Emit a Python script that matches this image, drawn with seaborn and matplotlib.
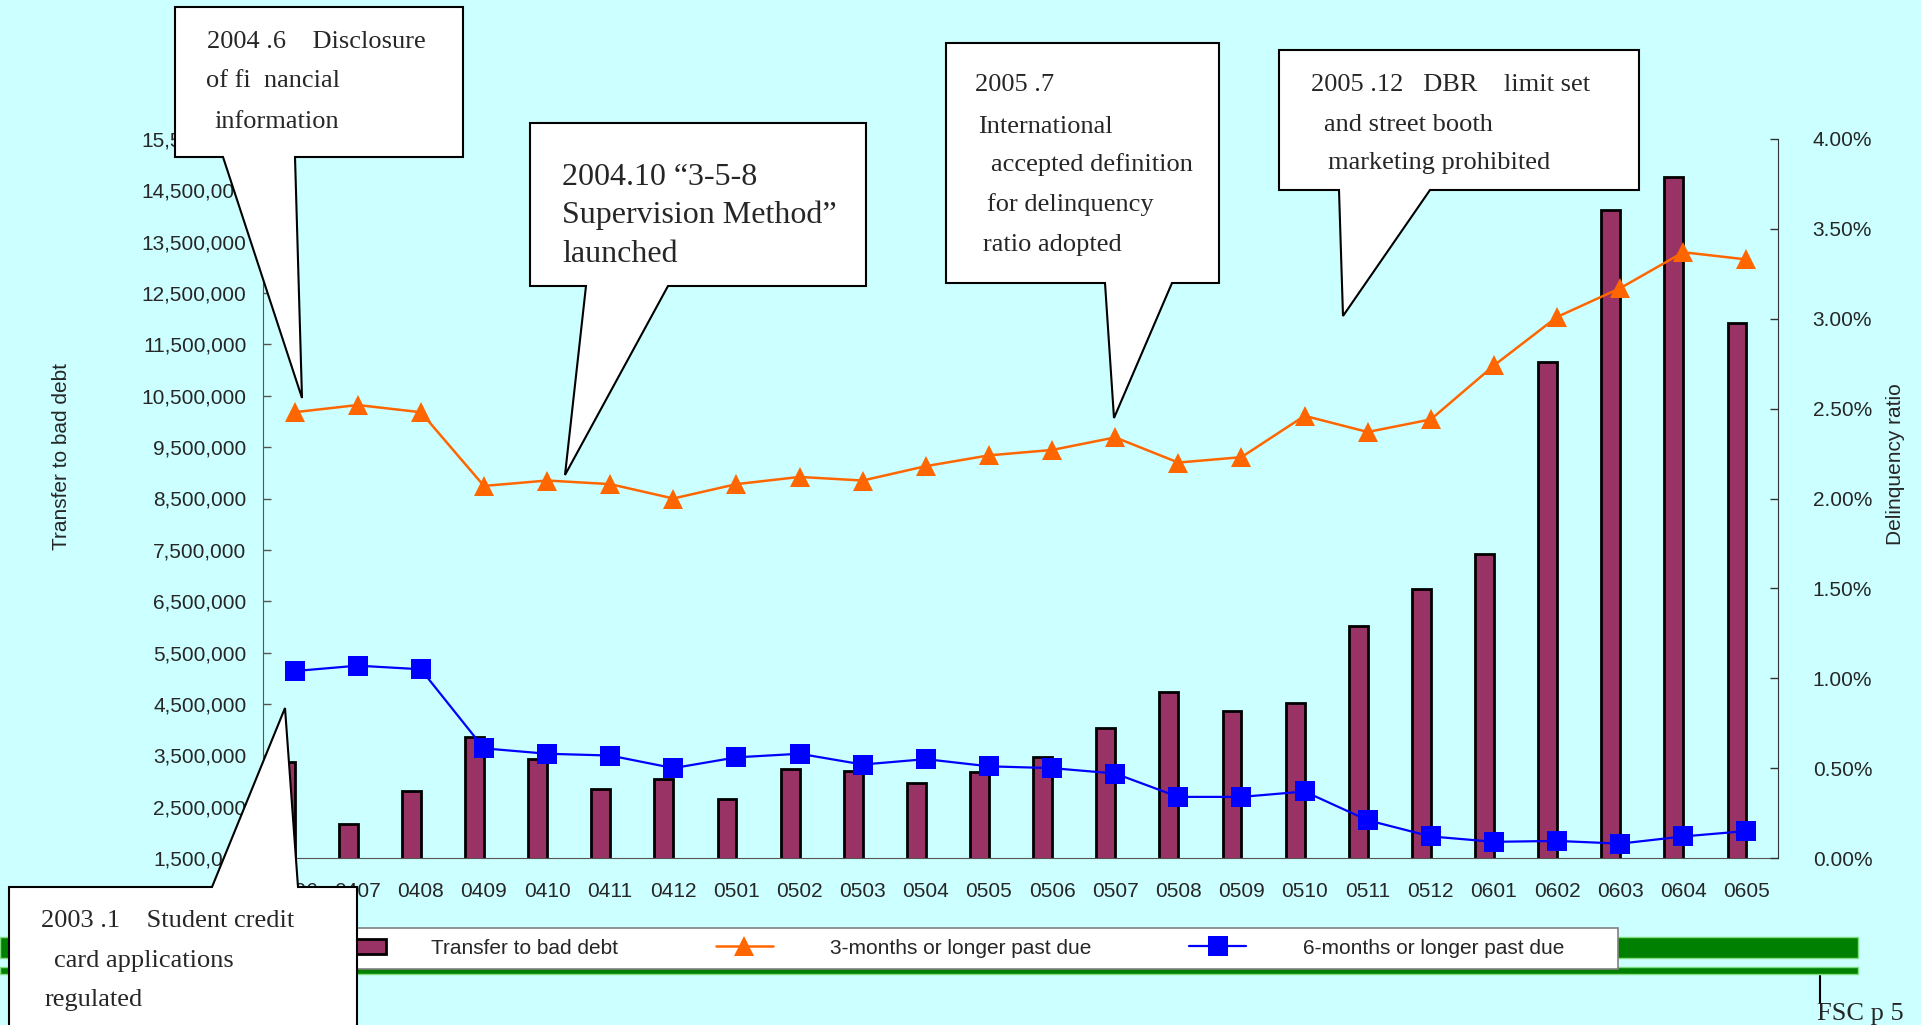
import matplotlib
matplotlib.use('Agg')
import matplotlib.pyplot as plt
import matplotlib.ticker as mticker
from matplotlib.patches import Polygon, Rectangle, Patch
from matplotlib.lines import Line2D
from matplotlib.legend_handler import HandlerPatch
import numpy as np
import pandas as pd
import seaborn as sns

# Daten
months = ['0406', '0407', '0408', '0409', '0410', '0411', '0412',
          '0501', '0502', '0503', '0504', '0505', '0506', '0507', '0508', '0509', '0510', '0511', '0512',
          '0601', '0602', '0603', '0604', '0605']
bad_debt = [3360000, 2160000, 2800000, 3850000, 3420000, 2840000, 3030000,
            2640000, 3230000, 3200000, 2970000, 3170000, 3460000, 4040000, 4730000, 4370000, 4520000,
            6020000, 6740000, 7420000, 11160000, 14110000, 14760000, 11920000]
past_due_3m = [0.0248, 0.0252, 0.0248, 0.0207, 0.0210, 0.0208, 0.0200,
               0.0208, 0.0212, 0.0210, 0.0218, 0.0224, 0.0227, 0.0234, 0.0220, 0.0223, 0.0246,
               0.0237, 0.0244, 0.0274, 0.0301, 0.0317, 0.0337, 0.0333]
past_due_6m = [0.0104, 0.0107, 0.0105, 0.0061, 0.0058, 0.0057, 0.0050,
               0.0056, 0.0058, 0.0052, 0.0055, 0.0051, 0.0050, 0.0047, 0.0034, 0.0034, 0.0037,
               0.0021, 0.0012, 0.0009, 0.00095, 0.0008, 0.0012, 0.0015]
series_names = ['Transfer to bad debt', '3-months or longer past due', '6-months or longer past due']
left_ticks = np.arange(1500000, 15500001, 1000000)
right_ticks = np.arange(0, 0.0401, 0.005)

BG = '#CCFFFF'
BAR = '#993366'
ORANGE = '#FF6600'
BLUE = '#0000FF'
W, H = 1921, 1025


def fx(x):
    return x / W


def fy(y):
    return 1 - y / H


def bar_handle(legend, orig_handle, xdescent, ydescent, width, height, fontsize):
    # Balken-Symbol in der Legende etwas nach rechts versetzt (wie im Original)
    return Rectangle((-xdescent + 8.6, -ydescent), width, height)


sns.set_style('white')
plt.rcParams['font.family'] = ['Liberation Sans', 'DejaVu Sans']

fig = plt.figure(figsize=(W / 100, H / 100), dpi=100, facecolor=BG)
ax = fig.add_axes([fx(263), fy(858), fx(1778) - fx(263), fy(139) - fy(858)])
ax.set_facecolor('none')

# Balken: zweite (leere) Serie, damit die Balken wie in Excel links von der Mitte stehen
df_bar = pd.DataFrame({'month': months, series_names[0]: bad_debt, 'leer': np.nan})
df_bar = df_bar.melt(id_vars='month', var_name='series', value_name='value')
sns.barplot(data=df_bar, x='month', y='value', hue='series', hue_order=[series_names[0], 'leer'],
            palette=[BAR, BAR], width=0.6, gap=0, dodge=True, saturation=1, errorbar=None,
            edgecolor='black', linewidth=2, legend=False, ax=ax)

ax2 = ax.twinx()
df_line = pd.DataFrame({'month': months, 'p3': past_due_3m, 'p6': past_due_6m})
sns.lineplot(data=df_line, x='month', y='p3', ax=ax2, color=ORANGE, marker='^', markersize=15,
             linewidth=1.8, markeredgecolor=ORANGE, markeredgewidth=0, sort=False)
sns.lineplot(data=df_line, x='month', y='p6', ax=ax2, color=BLUE, marker='s', markersize=14,
             linewidth=1.6, markeredgecolor=BLUE, markeredgewidth=0, sort=False)

ax.set_xlim(-0.5, len(months) - 0.5)
ax.set_ylim(left_ticks[0], left_ticks[-1])
ax2.set_ylim(0, 0.04)

ax.set_yticks(left_ticks)
ax.yaxis.set_major_formatter(mticker.StrMethodFormatter('{x:,.0f}'))
ax2.set_yticks(right_ticks)
ax2.yaxis.set_major_formatter(mticker.PercentFormatter(1.0, decimals=2))

ax.set_xticks(range(len(months)), labels=months)
ax.set_xticks(np.arange(-0.5, len(months), 1), minor=True)

ax.tick_params(axis='x', which='major', length=0, pad=17, labelsize=15)
ax.tick_params(axis='x', which='minor', direction='in', length=4.5, width=1, color='#555555')
ax.tick_params(axis='y', direction='in', length=6, width=1, pad=12, labelsize=15, color='#555555')
ax2.tick_params(axis='y', direction='in', length=6, width=1, pad=25, labelsize=15, color='#333333')

for s in ['top', 'right']:
    ax.spines[s].set_visible(False)
for s in ['top', 'left', 'bottom']:
    ax2.spines[s].set_visible(False)
ax.spines['left'].set_color('#555555')
ax.spines['bottom'].set_color('#555555')
ax2.spines['right'].set_color('#333333')

ax.set_xlabel('')
ax.set_ylabel('Transfer to bad debt', fontsize=15)
ax.yaxis.set_label_coords(-0.1267, 0.558)
ax2.set_xlabel('')
ax2.set_ylabel('Delinquency ratio', fontsize=15)
ax2.yaxis.set_label_coords(1.0713, 0.548)

# gruene Balken unten
for y0, y1 in [(937, 958), (967, 974)]:
    fig.add_artist(Rectangle((0, fy(y1)), fx(1858), fy(y0) - fy(y1), transform=fig.transFigure,
                             facecolor='#008000', edgecolor='#80dd80', linewidth=1, zorder=1))

# Legende
fig.add_artist(Rectangle((fx(300), fy(969)), fx(1618) - fx(300), fy(928) - fy(969), transform=fig.transFigure,
                         facecolor='white', edgecolor='#808080', linewidth=1.2, zorder=2))
handles = [Patch(facecolor=BAR, edgecolor='black', linewidth=2),
           Line2D([], [], color=ORANGE, marker='^', markersize=15, linewidth=1.8, markeredgewidth=0),
           Line2D([], [], color=BLUE, marker='s', markersize=14, linewidth=1.6, markeredgewidth=0)]
fig.legend(handles, series_names, loc='center left', bbox_to_anchor=(fx(317), fy(948)), ncol=3,
           frameon=False, fontsize=15, handlelength=2.74, handletextpad=2.74, columnspacing=4.69,
           borderpad=0, borderaxespad=0, handler_map={Patch: HandlerPatch(patch_func=bar_handle)})

# Sprechblasen
SERIF = ['Liberation Serif', 'DejaVu Serif']
callouts = [
    dict(box=(175, 7, 463, 157), base=(223, 295), tip=(302, 398), size=19,
         lines=[(207, 48, '2004 .6    Disclosure'), (206, 87, 'of fi  nancial'), (214, 128, 'information')]),
    dict(box=(530, 123, 866, 286), base=(586, 668), tip=(565, 475), size=23,
         lines=[(562, 185, '2004.10 \u201c3-5-8'), (562, 223, 'Supervision Method\u201d'), (562, 262, 'launched')]),
    dict(box=(946, 43, 1219, 283), base=(1105, 1172), tip=(1114, 418), size=19,
         lines=[(975, 91, '2005 .7'), (978, 133, 'International'), (991, 171, 'accepted definition'),
                (987, 211, 'for delinquency'), (983, 251, 'ratio adopted')]),
    dict(box=(1279, 50, 1639, 190), base=(1339, 1430), tip=(1343, 316), size=19,
         lines=[(1311, 91, '2005 .12   DBR    limit set'), (1324, 131, 'and street booth'),
                (1328, 169, 'marketing prohibited')]),
    dict(box=(9, 887, 357, 1040), base=(212, 298), tip=(285, 708), size=19, top=True,
         lines=[(41, 927, '2003 .1    Student credit'), (54, 967, 'card applications'), (45, 1006, 'regulated')]),
]
for c in callouts:
    x0, y0, x1, y1 = c['box']
    xa, xb = c['base']
    tx, ty = c['tip']
    if c.get('top'):
        pts = [(x0, y0), (xa, y0), (tx, ty), (xb, y0), (x1, y0), (x1, y1), (x0, y1)]
    else:
        pts = [(x0, y0), (x1, y0), (x1, y1), (xb, y1), (tx, ty), (xa, y1), (x0, y1)]
    fig.add_artist(Polygon([(fx(px), fy(py)) for px, py in pts], closed=True, transform=fig.transFigure,
                           facecolor='white', edgecolor='black', linewidth=1.5, zorder=10))
    for lx, ly, txt in c['lines']:
        fig.text(fx(lx), fy(ly), txt, fontsize=c['size'], family=SERIF, va='baseline', ha='left', zorder=11)

# Seitenangabe
fig.add_artist(Line2D([fx(1820), fx(1820)], [fy(976), fy(1003)], transform=fig.transFigure,
                      color='black', linewidth=1.5, zorder=3))
fig.text(fx(1817), fy(1020), 'FSC p 5', fontsize=19, family=SERIF, va='baseline', ha='left', zorder=3)

fig.savefig('out.png', dpi=100, facecolor=BG)
